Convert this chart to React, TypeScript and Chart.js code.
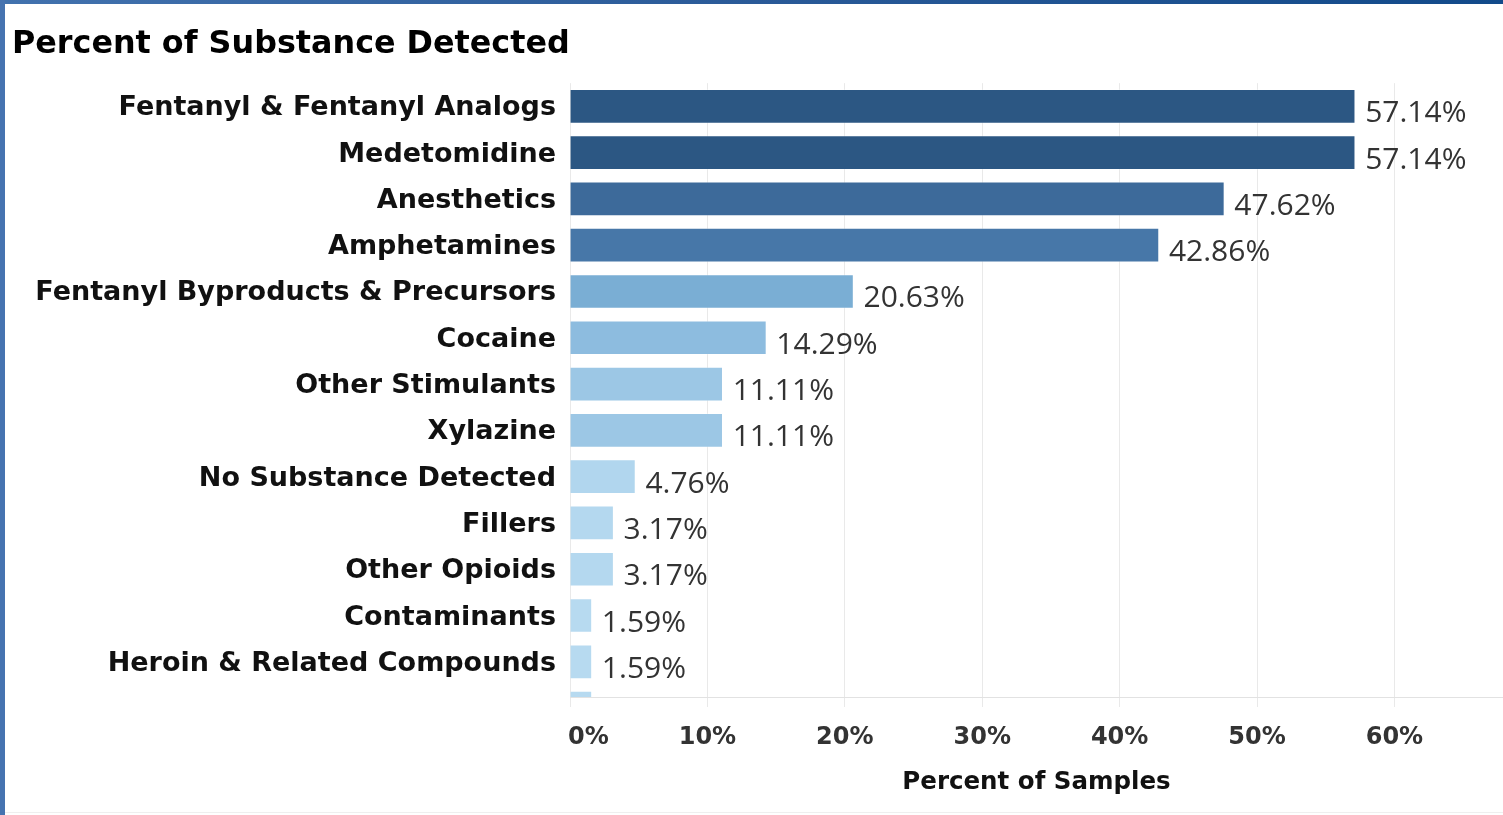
import React, { useEffect, useRef } from "react";
import { Chart, registerables } from "chart.js";

Chart.register(...registerables);

const titleText = "Percent of Substance Detected";
const axisTitle = "Percent of Samples";

const categories = [
  "Fentanyl & Fentanyl Analogs",
  "Medetomidine",
  "Anesthetics",
  "Amphetamines",
  "Fentanyl Byproducts & Precursors",
  "Cocaine",
  "Other Stimulants",
  "Xylazine",
  "No Substance Detected",
  "Fillers",
  "Other Opioids",
  "Contaminants",
  "Heroin & Related Compounds",
  "",
];

const values = [57.14, 57.14, 47.62, 42.86, 20.63, 14.29, 11.11, 11.11, 4.76, 3.17, 3.17, 1.59, 1.59, 1.59];

const barColors = [
  "#2c5783",
  "#2c5783",
  "#3d6a9a",
  "#4777a8",
  "#7aaed4",
  "#8dbcdf",
  "#9cc7e5",
  "#9cc7e5",
  "#b1d6ee",
  "#b4d8ef",
  "#b4d8ef",
  "#b7daf0",
  "#b7daf0",
  "#b7daf0",
];

const xTicks = [0, 10, 20, 30, 40, 50, 60];

const W = 1503;
const H = 815;

const TICK_FONT_SIZE = 24;
const TICK_LEN = 10;
const TICK_PAD = 16;

const valueLabelPlugin = {
  id: "valueLabels",
  afterDatasetsDraw(chart: any) {
    const ctx = chart.ctx;
    const area = chart.chartArea;
    const meta = chart.getDatasetMeta(0);
    ctx.save();
    ctx.font = "30px 'Open Sans'";
    ctx.fillStyle = "#333333";
    ctx.textAlign = "left";
    ctx.textBaseline = "alphabetic";
    meta.data.forEach((el: any, i: number) => {
      if (el.y > area.bottom) return;
      ctx.fillText(values[i].toFixed(2) + "%", el.x + 10, el.y + 16);
    });
    ctx.restore();
  },
};

// Tableau keeps the first axis label inside the axis start
const firstTickPlugin = {
  id: "firstTick",
  afterDraw(chart: any) {
    const ctx = chart.ctx;
    const xs = chart.scales.x;
    ctx.save();
    ctx.font = `bold ${TICK_FONT_SIZE}px 'DejaVu Sans'`;
    ctx.fillStyle = "#333333";
    ctx.textAlign = "left";
    ctx.textBaseline = "middle";
    const y = xs.top + TICK_LEN + TICK_PAD + (TICK_FONT_SIZE * 1.2) / 2;
    ctx.fillText(xTicks[0] + "%", xs.getPixelForValue(xTicks[0]) - 2, y);
    ctx.restore();
  },
};

export default function App() {
  const ref = useRef<HTMLCanvasElement | null>(null);

  useEffect(() => {
    document.body.style.margin = "0";
    const canvas = ref.current;
    if (!canvas) return;
    const labelFont = { family: "'DejaVu Sans'", size: 27, weight: "bold" as const };
    const chart = new Chart(canvas, {
      type: "bar",
      data: {
        datasets: [
          {
            data: values.map((v, i) => ({ x: v, y: i })),
            backgroundColor: barColors,
            borderColor: "rgba(255,255,255,0.25)",
            borderWidth: 1,
            barThickness: 34,
            clip: 0,
          } as any,
        ],
      },
      options: {
        indexAxis: "y",
        responsive: false,
        animation: false,
        layout: { padding: { top: 4, left: 12, right: 0, bottom: 0 } },
        plugins: {
          legend: { display: false },
          tooltip: { enabled: false },
          title: {
            display: true,
            text: titleText,
            align: "start",
            color: "#000000",
            font: { family: "'DejaVu Sans'", size: 31.8, weight: "bold" },
            padding: { top: 22, bottom: 19 },
          },
        },
        scales: {
          x: {
            type: "linear",
            position: "bottom",
            min: 0,
            max: 67.9,
            afterBuildTicks: (s: any) => {
              s.ticks = xTicks.map((v) => ({ value: v }));
            },
            afterFit: (s: any) => {
              s.height = H - 697;
            },
            ticks: {
              callback: (v: any) => (v === xTicks[0] ? "" : v + "%"),
              color: "#333333",
              font: { family: "'DejaVu Sans'", size: TICK_FONT_SIZE, weight: "bold" },
              padding: TICK_PAD,
              maxRotation: 0,
              autoSkip: false,
            },
            grid: { color: "#e9e9e9", tickLength: TICK_LEN, drawTicks: true, lineWidth: 1 },
            border: { display: true, color: "#e2e2e2" },
            title: {
              display: true,
              text: axisTitle,
              color: "#111111",
              font: { family: "'DejaVu Sans'", size: 24.5, weight: "bold" },
              padding: { top: 0, bottom: 18 },
            },
          },
          y: {
            type: "linear",
            reverse: true,
            offset: false,
            min: -0.5,
            max: 12.76,
            afterBuildTicks: (s: any) => {
              s.ticks = categories
                .map((_, i) => ({ value: i }))
                .filter((t) => t.value <= 12.76);
            },
            afterFit: (s: any) => {
              s.width = 570 - 12;
            },
            ticks: {
              callback: (v: any) => categories[v as number],
              color: "#111111",
              font: labelFont,
              padding: 14,
              labelOffset: 2,
              autoSkip: false,
            },
            grid: { display: false, drawTicks: false },
            border: { display: false },
          },
        },
      } as any,
      plugins: [valueLabelPlugin, firstTickPlugin],
    });
    return () => chart.destroy();
  }, []);

  return (
    <div style={{ position: "relative", width: W, height: H, background: "#ffffff", overflow: "hidden" }}>
      <canvas ref={ref} width={W} height={H} style={{ position: "absolute", left: 0, top: 0 }} />
      <div
        style={{
          position: "absolute",
          left: 0,
          top: 0,
          width: W,
          height: 4,
          background: "linear-gradient(to right, #4272ae, #2a5a98 50%, #124a8a)",
        }}
      />
      <div style={{ position: "absolute", left: 0, top: 0, width: 5, height: H, background: "#4673b0" }} />
      <div style={{ position: "absolute", left: 5, top: H - 3, width: W - 5, height: 1, background: "#efefef" }} />
    </div>
  );
}
